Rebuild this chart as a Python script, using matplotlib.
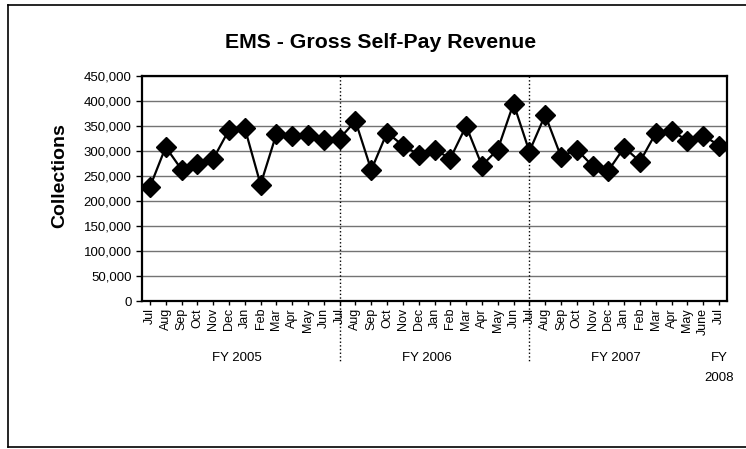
import matplotlib
matplotlib.use("Agg")
from matplotlib import pyplot as plt
from matplotlib.lines import Line2D
from matplotlib.ticker import FuncFormatter
import numpy as np

plt.rcParams['font.family'] = ['Liberation Sans', 'DejaVu Sans']

months = ["Jul", "Aug", "Sep", "Oct", "Nov", "Dec", "Jan", "Feb", "Mar", "Apr", "May", "Jun",
          "Jul", "Aug", "Sep", "Oct", "Nov", "Dec", "Jan", "Feb", "Mar", "Apr", "May", "Jun",
          "Jul", "Aug", "Sep", "Oct", "Nov", "Dec", "Jan", "Feb", "Mar", "Apr", "May", "June",
          "Jul"]
collections = [228000, 308000, 263000, 275000, 284000, 342000, 346000, 233000, 334000, 330000, 333000, 322000,
               325000, 360000, 262000, 337000, 311000, 293000, 303000, 285000, 350000, 271000, 303000, 395000,
               299000, 372000, 289000, 303000, 270000, 261000, 307000, 279000, 336000, 340000, 321000, 331000,
               311000]
fy_labels = ["FY 2005", "FY 2006", "FY 2007", "FY\n2008"]
fy_pos = [5.5, 17.5, 29.5, 36]
year_breaks = [12, 24]

fig = plt.figure(figsize=(7.46, 4.49), dpi=100)
ax = fig.add_axes([142/746, 1-301/449, (727-142)/746, (301-76)/449])

x = np.arange(len(months))
ax.plot(x, collections, color='black', lw=1.6, marker='D', markersize=10, zorder=3)

ax.set_xlim(-0.5, len(months)-0.5)
ax.set_ylim(0, 450000)
ax.set_yticks(np.arange(0, 450001, 50000))
ax.yaxis.set_major_formatter(FuncFormatter(lambda v, p: f"{int(v):,}"))
ax.grid(axis='y', color='0.45', lw=1)
ax.set_axisbelow(True)
ax.set_xticks(x)
ax.set_xticklabels(months, rotation=90, fontsize=9)
ax.tick_params(axis='y', labelsize=9.5, length=4, width=1, direction='out')
ax.tick_params(axis='x', length=3, width=1, pad=2)
for s in ax.spines.values():
    s.set_linewidth(1.6)

# dotted lines separating fiscal years
for b in year_breaks:
    ax.plot([b, b], [1, -0.27], transform=ax.get_xaxis_transform(), color='black',
            ls=':', lw=1, clip_on=False, zorder=2)

for lab, p in zip(fy_labels, fy_pos):
    ax.text(p, -0.225, lab, transform=ax.get_xaxis_transform(), ha='center', va='top',
            fontsize=9.5, linespacing=1.9)

fig.text(60/746, 1-176/449, "Collections", rotation=90, ha='center', va='center',
         fontsize=14, fontweight='bold')
fig.text(381/746, 1-43/449, "EMS - Gross Self-Pay Revenue", ha='center', va='center',
         fontsize=15.3, fontweight='bold')

# outer chart border
fig.add_artist(Line2D([8/746, 8/746], [1-447/449, 1-5/449], color='black', lw=1.2,
                      transform=fig.transFigure))
fig.add_artist(Line2D([8/746, 1], [1-5/449, 1-5/449], color='black', lw=1.2,
                      transform=fig.transFigure))
fig.add_artist(Line2D([8/746, 1], [1-447/449, 1-447/449], color='black', lw=1.2,
                      transform=fig.transFigure))

fig.savefig("out.png", dpi=100)
